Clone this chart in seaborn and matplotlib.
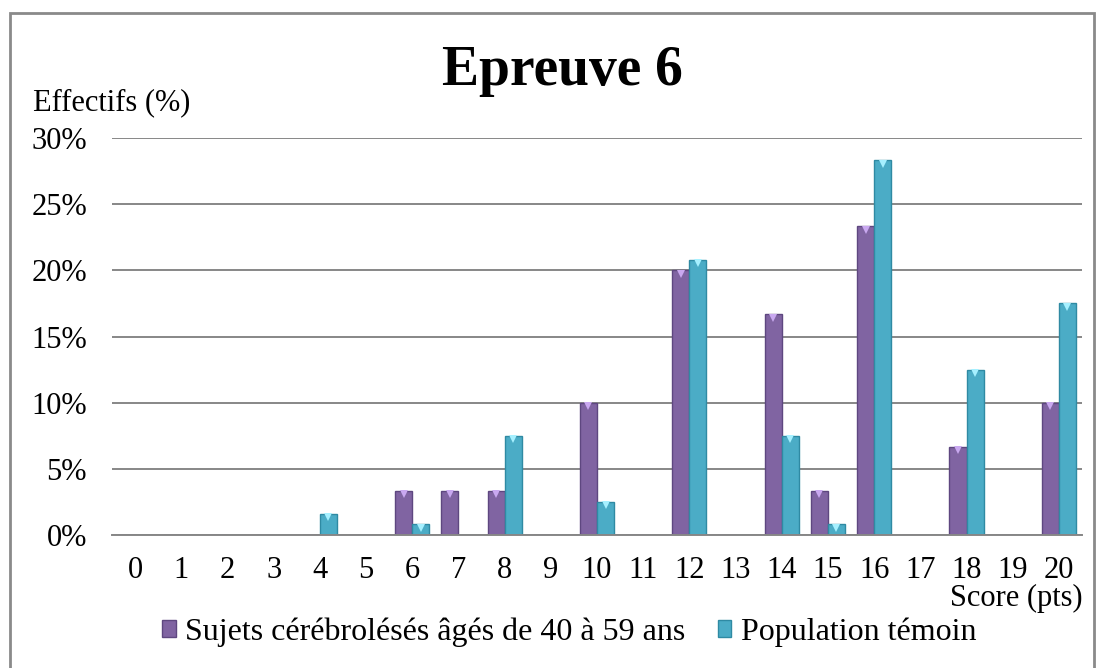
import matplotlib
matplotlib.use("Agg")
import matplotlib.pyplot as plt
import matplotlib.patches as mpatches
from matplotlib.ticker import FuncFormatter
import seaborn as sns
import pandas as pd

# ---- data ----
scores = [str(i) for i in range(21)]
series_names = ["Sujets cérébrolésés âgés de 40 à 59 ans", "Population témoin"]
sujets = [0, 0, 0, 0, 0, 0, 3.33, 3.33, 3.33, 0, 10.0, 0, 20.0, 0, 16.67, 3.33, 23.33, 0, 6.67, 0, 10.0]
temoin = [0, 0, 0, 0, 1.6, 0, 0.8, 0, 7.5, 0, 2.5, 0, 20.8, 0, 7.5, 0.8, 28.3, 0, 12.5, 0, 17.5]
yticks = [0, 5, 10, 15, 20, 25, 30]

colors = ["#8064A2", "#4BACC6"]
edge_colors = ["#5E4780", "#2F8AA3"]
top_colors = ["#C9A8F0", "#A6F0FF"]

df = pd.DataFrame({
    "score": scores * 2,
    "value": [v / 100 for v in sujets] + [v / 100 for v in temoin],
    "serie": [series_names[0]] * len(scores) + [series_names[1]] * len(scores),
})

sns.set_theme(style="white")
plt.rcParams["font.family"] = ["Liberation Serif", "DejaVu Serif"]
plt.rcParams["text.color"] = "black"

fig = plt.figure(figsize=(11.01, 6.68), dpi=100)
ax = fig.add_axes([112 / 1101, 1 - 535 / 668, (1082 - 112) / 1101, (535 - 138) / 668])

sns.barplot(data=df, x="score", y="value", hue="serie", order=scores,
            hue_order=series_names, palette=colors, width=0.74, ax=ax,
            legend=False, saturation=1, errorbar=None)

# style bars: darker edge, light bevel marker at top
n = len(scores)
for i, p in enumerate(ax.patches[:2 * n]):
    s = i // n
    p.set_edgecolor(edge_colors[s])
    p.set_linewidth(1.0)
    h = p.get_height()
    if h > 0:
        cx = p.get_x() + p.get_width() / 2
        ax.plot([cx], [h - 0.0025], marker="v", markersize=6,
                color=top_colors[s], markeredgewidth=0, zorder=5)

ax.set_xlim(-0.5, 20.5)
ax.set_ylim(0, 0.30)
ax.set_yticks([t / 100 for t in yticks])
ax.yaxis.set_major_formatter(FuncFormatter(lambda v, _: f"{round(v * 100)}%"))
ax.grid(axis="y", color="#878787", linewidth=1.4)
ax.grid(axis="x", visible=False)
ax.set_axisbelow(True)
for side in ["top", "right", "left"]:
    ax.spines[side].set_visible(False)
ax.spines["bottom"].set_color("#878787")
ax.spines["bottom"].set_linewidth(1.4)
ax.tick_params(axis="both", length=0, labelsize=22, colors="black")
ax.tick_params(axis="y", pad=18)
ax.tick_params(axis="x", pad=15)
ax.set_xlabel("")
ax.set_ylabel("")

fig.text(0.511, 0.893, "Epreuve 6", ha="center", va="center",
         fontsize=40, fontweight="bold", color="black")
fig.text(33 / 1101, 1 - 103 / 668, "Effectifs (%)", ha="left", va="center", fontsize=22, color="black")
fig.text(1083 / 1101, 1 - 598 / 668, "Score (pts)", ha="right", va="center", fontsize=22, color="black")

handles = [mpatches.Patch(facecolor=colors[k], edgecolor=edge_colors[k]) for k in range(2)]
leg = fig.legend(handles, series_names, loc="center", bbox_to_anchor=(0.517, 1 - 632 / 668),
                 ncol=2, frameon=False, fontsize=23, handlelength=0.42, handleheight=0.42,
                 handletextpad=0.3, columnspacing=1.0, borderpad=0)
for t in leg.get_texts():
    t.set_color("black")

# outer frame
fig.patches.append(mpatches.Rectangle((10 / 1101, -0.05), (1094 - 10) / 1101, 1 - 13 / 668 + 0.05,
                                      transform=fig.transFigure, fill=False,
                                      edgecolor="#8a8a8a", linewidth=2))

fig.savefig("out.png", dpi=100, facecolor="white")
